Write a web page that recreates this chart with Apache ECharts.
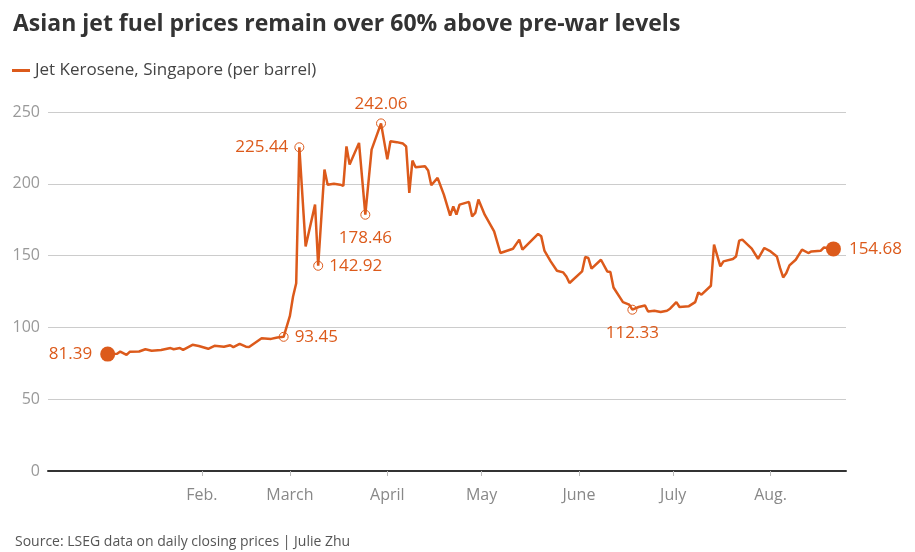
<!DOCTYPE html>
<html>
<head>
<meta charset="utf-8">
<script src="https://cdn.jsdelivr.net/npm/echarts@6/dist/echarts.min.js"></script>
<style>
  html, body { margin: 0; padding: 0; background: #fff; }
  #chart { width: 915px; height: 552px; }
</style>
</head>
<body>
<div id="chart"></div>
<script>
// daily closing price, Jet Kerosene Singapore ($/barrel)
const dates = [
  '2022-01-02', '2022-01-05', '2022-01-06', '2022-01-08', '2022-01-09', '2022-01-12',
  '2022-01-14', '2022-01-16', '2022-01-19', '2022-01-22', '2022-01-23', '2022-01-25',
  '2022-01-26', '2022-01-29', '2022-01-31', '2022-02-03', '2022-02-05', '2022-02-08',
  '2022-02-10', '2022-02-11', '2022-02-13', '2022-02-15', '2022-02-16', '2022-02-20',
  '2022-02-23', '2022-02-25', '2022-02-27', '2022-03-01', '2022-03-02', '2022-03-03',
  '2022-03-04', '2022-03-06', '2022-03-09', '2022-03-10', '2022-03-12', '2022-03-13',
  '2022-03-15', '2022-03-17', '2022-03-18', '2022-03-19', '2022-03-20', '2022-03-23',
  '2022-03-25', '2022-03-27', '2022-03-30', '2022-04-01', '2022-04-02', '2022-04-04',
  '2022-04-06', '2022-04-07', '2022-04-08', '2022-04-09', '2022-04-10', '2022-04-13',
  '2022-04-14', '2022-04-15', '2022-04-17', '2022-04-19', '2022-04-21', '2022-04-22',
  '2022-04-23', '2022-04-24', '2022-04-27', '2022-04-28', '2022-04-29', '2022-04-30',
  '2022-05-02', '2022-05-05', '2022-05-07', '2022-05-11', '2022-05-13', '2022-05-14',
  '2022-05-19', '2022-05-20', '2022-05-21', '2022-05-23', '2022-05-25', '2022-05-27',
  '2022-05-28', '2022-05-29', '2022-06-02', '2022-06-03', '2022-06-04', '2022-06-05',
  '2022-06-08', '2022-06-10', '2022-06-11', '2022-06-12', '2022-06-15', '2022-06-17',
  '2022-06-18', '2022-06-20', '2022-06-22', '2022-06-23', '2022-06-25', '2022-06-27',
  '2022-06-29', '2022-06-30', '2022-07-02', '2022-07-03', '2022-07-06', '2022-07-08',
  '2022-07-09', '2022-07-10', '2022-07-13', '2022-07-14', '2022-07-16', '2022-07-17',
  '2022-07-20', '2022-07-21', '2022-07-22', '2022-07-23', '2022-07-26', '2022-07-28',
  '2022-07-30', '2022-08-01', '2022-08-03', '2022-08-04', '2022-08-05', '2022-08-06',
  '2022-08-07', '2022-08-09', '2022-08-11', '2022-08-13', '2022-08-14', '2022-08-17',
  '2022-08-18', '2022-08-21'
];
const prices = [
  81.39, 81.6, 83.2, 80.9, 83.0, 83.2,
  84.8, 83.7, 84.2, 85.6, 84.8, 85.6,
  84.4, 87.9, 87.0, 85.1, 87.2, 86.5,
  87.6, 86.3, 88.6, 86.6, 86.3, 92.4,
  92.0, 93.0, 93.45, 108.0, 121.5, 130.8,
  225.44, 156.4, 185.5, 142.92, 209.9, 199.4,
  200.0, 199.4, 198.5, 226.0, 213.4, 228.5,
  178.46, 223.8, 242.06, 217.0, 229.6, 229.0,
  228.0, 226.0, 193.6, 216.2, 211.5, 212.2,
  209.2, 199.0, 204.1, 192.5, 177.8, 184.3,
  178.5, 185.5, 187.4, 177.3, 179.7, 189.0,
  178.5, 166.9, 151.8, 154.8, 161.1, 154.1,
  165.1, 163.4, 153.5, 146.0, 139.5, 138.3,
  135.5, 130.9, 139.0, 149.0, 148.3, 140.9,
  147.1, 139.0, 138.6, 127.8, 117.6, 115.8,
  112.33, 114.2, 115.3, 111.1, 111.6, 110.7,
  111.6, 113.0, 117.6, 114.2, 114.8, 117.6,
  124.3, 122.8, 129.0, 157.6, 142.5, 146.0,
  147.6, 149.4, 160.4, 161.1, 154.8, 147.8,
  155.3, 152.9, 149.4, 141.4, 134.8, 137.9,
  143.2, 147.1, 154.1, 151.8, 152.9, 153.4,
  155.7, 154.68
];

// annotated points
const ringDates = ['2022-02-27', '2022-03-04', '2022-03-10', '2022-03-25', '2022-03-30', '2022-06-18'];
const dotDates = ['2022-01-02', '2022-08-21'];

const monthTicks = ['2022-02-01', '2022-03-01', '2022-04-01', '2022-05-01', '2022-06-01', '2022-07-01', '2022-08-01'];
const monthLabels = ['Feb.', 'March', 'April', 'May', 'June', 'July', 'Aug.'];
const yTicks = [0, 50, 100, 150, 200, 250];

const ORANGE = '#dc5a1b';
const FONT = '"Open Sans", "DejaVu Sans", sans-serif';

function toTime(s) {
  const p = s.split('-');
  return new Date(+p[0], +p[1] - 1, +p[2]).getTime();
}

const labelPos = {
  '2022-01-02': 'left',
  '2022-02-27': 'right',
  '2022-03-04': 'left',
  '2022-03-10': 'right',
  '2022-03-25': 'bottom',
  '2022-03-30': 'top',
  '2022-06-18': 'bottom',
  '2022-08-21': 'right'
};

const seriesData = dates.map((d, i) => {
  const item = { value: [toTime(d), prices[i]] };
  const isRing = ringDates.indexOf(d) >= 0;
  const isDot = dotDates.indexOf(d) >= 0;
  if (isRing || isDot) {
    const pos = labelPos[d];
    item.symbol = 'circle';
    item.symbolSize = isDot ? 15 : 9;
    item.itemStyle = isDot
      ? { color: ORANGE, borderWidth: 0 }
      : { color: 'rgba(255,255,255,0)', borderColor: ORANGE, borderWidth: 1 };
    item.label = {
      show: true,
      position: pos,
      distance: isDot ? 8 : (pos === 'bottom' ? 10 : 6),
      color: ORANGE,
      fontSize: 17,
      fontFamily: FONT,
      formatter: (p) => p.value[1].toFixed(2)
    };
  }
  return item;
});

const tickTimes = monthTicks.map(toTime);

const chart = echarts.init(document.getElementById('chart'));
chart.setOption({
  animation: false,
  textStyle: { fontFamily: FONT },
  title: [
    {
      text: 'Asian jet fuel prices remain over 60% above pre-war levels',
      left: 8,
      top: 8,
      textStyle: { fontSize: 23, fontWeight: 'bold', color: '#333', fontFamily: FONT }
    },
    {
      text: 'Source: LSEG data on daily closing prices | Julie Zhu',
      left: 10,
      top: 530,
      textStyle: { fontSize: 14, fontWeight: 'normal', color: '#555', fontFamily: FONT }
    }
  ],
  legend: {
    left: 7,
    top: 57,
    icon: 'rect',
    itemWidth: 18,
    itemHeight: 3,
    textStyle: { fontSize: 17, color: '#444', fontFamily: FONT },
    data: ['Jet Kerosene, Singapore (per barrel)']
  },
  grid: { left: 48, right: 69, top: 112, bottom: 81, containLabel: false },
  xAxis: {
    type: 'value',
    min: toTime('2021-12-14'),
    max: toTime('2022-08-25'),
    axisLine: { show: true, onZero: false, lineStyle: { color: '#333', width: 2 } },
    axisTick: {
      show: true,
      length: 5,
      lineStyle: { color: '#bbb', width: 1 },
      customValues: tickTimes
    },
    axisLabel: {
      customValues: tickTimes,
      formatter: (v) => monthLabels[new Date(v).getMonth() - 1],
      color: '#888',
      fontSize: 16,
      margin: 16,
      fontFamily: FONT
    },
    splitLine: { show: false }
  },
  yAxis: {
    type: 'value',
    min: yTicks[0],
    max: yTicks[yTicks.length - 1],
    interval: 50,
    axisLine: { show: false },
    axisTick: { show: false },
    axisLabel: { color: '#999', fontSize: 16, margin: 8, fontFamily: FONT },
    splitLine: { lineStyle: { color: '#ccc', width: 1 } }
  },
  series: [
    {
      name: 'Jet Kerosene, Singapore (per barrel)',
      type: 'line',
      data: seriesData,
      symbol: 'none',
      showSymbol: true,
      showAllSymbol: true,
      color: ORANGE,
      lineStyle: { color: ORANGE, width: 2.5 },
      emphasis: { disabled: true },
      z: 3
    }
  ]
});
</script>
</body>
</html>
